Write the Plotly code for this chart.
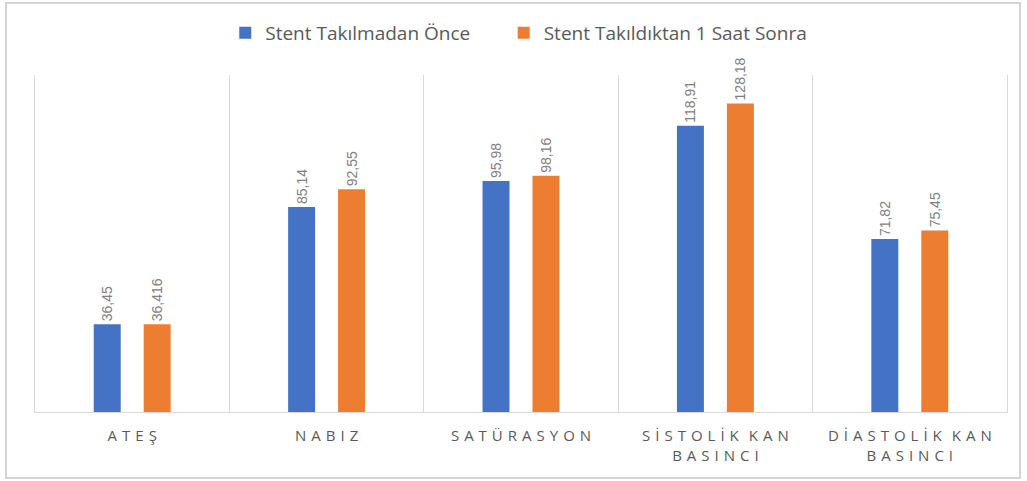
import plotly.graph_objects as go

categories = ["ATEŞ", "NABIZ", "SATÜRASYON", "SİSTOLİK KAN<br>BASINCI", "DİASTOLİK KAN<br>BASINCI"]
series_names = ["Stent Takılmadan Önce", "Stent Takıldıktan 1 Saat Sonra"]
before_values = [36.45, 85.14, 95.98, 118.91, 71.82]
after_values = [36.416, 92.55, 98.16, 128.18, 75.45]
colors = ["#4472C4", "#ED7D31"]

SP = "\u2004"


def spaced(label):
    lines = label.split("<br>")
    out = []
    for line in lines:
        words = line.split(" ")
        out.append((SP + SP).join(SP.join(list(w)) for w in words))
    return "<br>".join(out)


tick_text = [spaced(c) for c in categories]


def fmt(v):
    return ("%g" % v).replace(".", ",")


legend_pad = ["\u2003\u2002", ""]

fig = go.Figure()
for name, pad, vals, col in zip(series_names, legend_pad, [before_values, after_values], colors):
    fig.add_trace(go.Bar(
        name=name + pad,
        x=categories,
        y=vals,
        marker=dict(color=col, line=dict(width=0)),
        text=[fmt(v) for v in vals],
        textposition="outside",
        textangle=-90,
        constraintext="none",
        textfont=dict(family="Liberation Sans Narrow, Liberation Sans", size=14, color="#808080"),
        cliponaxis=False,
    ))

fig.update_layout(
    width=1027,
    height=481,
    barmode="group",
    bargap=0.486,
    bargroupgap=0.46,
    plot_bgcolor="white",
    paper_bgcolor="white",
    margin=dict(l=35, r=20, t=75, b=69, autoexpand=False),
    font=dict(family="Open Sans", color="#595959"),
    legend=dict(
        orientation="h",
        x=0.4977, xanchor="center",
        yref="container",
        y=1 - 33 / 481, yanchor="middle",
        font=dict(family="Open Sans", size=19, color="#595959"),
        traceorder="normal",
    ),
    xaxis=dict(
        type="category",
        tickmode="array",
        tickvals=categories,
        ticktext=tick_text,
        tickson="boundaries",
        showgrid=True,
        gridcolor="#d9d9d9",
        gridwidth=1,
        showline=True,
        linecolor="#d9d9d9",
        linewidth=1,
        ticks="",
        ticklabelstandoff=10,
        automargin=False,
        tickfont=dict(family="Open Sans", size=15, color="#595959"),
    ),
    yaxis=dict(
        range=[0, 140],
        showgrid=False,
        zeroline=False,
        showticklabels=False,
        showline=True,
        mirror=True,
        linecolor="#d9d9d9",
        linewidth=1,
        automargin=False,
    ),
    shapes=[dict(
        type="rect", xref="paper", yref="paper",
        x0=(6 - 35) / 972, x1=(1020 - 35) / 972,
        y0=(412 - 478) / 337, y1=(412 - 3) / 337,
        line=dict(color="#d4d4d4", width=2),
        fillcolor="rgba(0,0,0,0)",
        layer="above",
    )],
)

fig.write_html(
    "out.html",
    config={"displayModeBar": False},
    post_script="document.body.style.margin='0';document.body.style.overflow='hidden';",
)
